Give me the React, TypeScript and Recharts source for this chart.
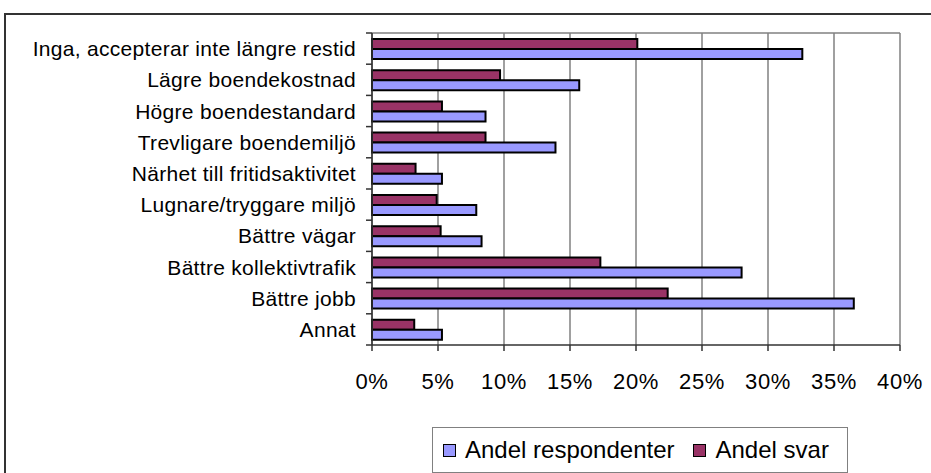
import { Bar, BarChart, CartesianGrid, XAxis, YAxis } from "recharts";

const categories = [
  "Inga, accepterar inte längre restid",
  "Lägre boendekostnad",
  "Högre boendestandard",
  "Trevligare boendemiljö",
  "Närhet till fritidsaktivitet",
  "Lugnare/tryggare miljö",
  "Bättre vägar",
  "Bättre kollektivtrafik",
  "Bättre jobb",
  "Annat",
];
const andelRespondenter = [0.326, 0.157, 0.086, 0.139, 0.053, 0.079, 0.083, 0.28, 0.365, 0.053];
const andelSvar = [0.201, 0.097, 0.053, 0.086, 0.033, 0.049, 0.052, 0.173, 0.224, 0.032];
const xTicks = [0, 0.05, 0.1, 0.15, 0.2, 0.25, 0.3, 0.35, 0.4];

const series = [
  { key: "respondenter", name: "Andel respondenter", color: "#9999ff" },
  { key: "svar", name: "Andel svar", color: "#993366" },
];

const chartData = categories.map((c, i) => ({
  name: c,
  respondenter: andelRespondenter[i],
  svar: andelSvar[i],
}));

const W = 931;
const H = 473;
const M = { top: 33, right: 31, bottom: 0, left: 0 };
const X_AXIS_H = 128;
const Y_AXIS_W = 372;
const PLOT_H = H - M.top - M.bottom - X_AXIS_H;
const FONT = '"Liberation Sans", Arial, sans-serif';

function CatTick(props: any) {
  const { x, y, payload, index } = props;
  const half = payload?.offset ?? PLOT_H / categories.length / 2;
  return (
    <g>
      <line x1={x - 6} x2={x} y1={y - half} y2={y - half} stroke="#333" strokeWidth={1.5} />
      {index === categories.length - 1 && (
        <line x1={x - 6} x2={x} y1={y + half} y2={y + half} stroke="#333" strokeWidth={1.5} />
      )}
      <text
        x={x - 16}
        y={y}
        dy="0.36em"
        textAnchor="end"
        fontSize={21}
        letterSpacing={0.3}
        fontFamily={FONT}
        fill="#000"
      >
        {payload.value}
      </text>
    </g>
  );
}

export default function App() {
  return (
    <div
      style={{
        position: "absolute",
        left: 0,
        top: 0,
        width: W,
        height: H,
        overflow: "hidden",
        background: "#fff",
        fontFamily: FONT,
      }}
    >
      <div
        style={{
          position: "absolute",
          left: 4,
          top: 13,
          width: 960,
          height: 500,
          border: "2px solid #333",
        }}
      />
      <div style={{ position: "absolute", left: 0, top: 0 }}>
        <BarChart
          width={W}
          height={H}
          layout="vertical"
          data={chartData}
          margin={M}
          barSize={10}
          barGap={0}
        >
          <CartesianGrid
            stroke="#808080"
            strokeWidth={1.5}
            horizontal={true}
            horizontalCoordinatesGenerator={({ offset }: any) => [offset.top]}
          />
          <XAxis
            type="number"
            domain={[0, 0.4]}
            ticks={xTicks}
            tickFormatter={(v: number) => `${Math.round(v * 100)}%`}
            height={X_AXIS_H}
            tickSize={6}
            tickMargin={22}
            axisLine={{ stroke: "#333", strokeWidth: 1.5 }}
            tickLine={{ stroke: "#333", strokeWidth: 1.5 }}
            tick={{ fontSize: 22, fill: "#000", fontFamily: FONT, letterSpacing: 0.6 }}
            interval={0}
          />
          <YAxis
            type="category"
            dataKey="name"
            width={Y_AXIS_W}
            axisLine={{ stroke: "#333", strokeWidth: 1.5 }}
            tickLine={false}
            tickSize={0}
            tickMargin={0}
            tick={<CatTick />}
            interval={0}
          />
          <Bar dataKey="svar" name="Andel svar" fill="#993366" stroke="#000" strokeWidth={2} isAnimationActive={false} />
          <Bar dataKey="respondenter" name="Andel respondenter" fill="#9999ff" stroke="#000" strokeWidth={2} isAnimationActive={false} />
        </BarChart>
      </div>
      <div
        style={{
          position: "absolute",
          left: 432,
          top: 427,
          width: 404,
          height: 44,
          border: "1px solid #808080",
          display: "flex",
          alignItems: "center",
          paddingLeft: 10,
          boxSizing: "content-box",
        }}
      >
        {series.map((s, i) => (
          <div key={s.key} style={{ display: "flex", alignItems: "center", marginLeft: i === 0 ? 0 : 19 }}>
            <div
              style={{
                width: 11,
                height: 11,
                background: s.color,
                border: "1.5px solid #000",
                marginRight: 9,
              }}
            />
            <span style={{ fontSize: 24, color: "#000", lineHeight: "24px" }}>{s.name}</span>
          </div>
        ))}
      </div>
    </div>
  );
}
